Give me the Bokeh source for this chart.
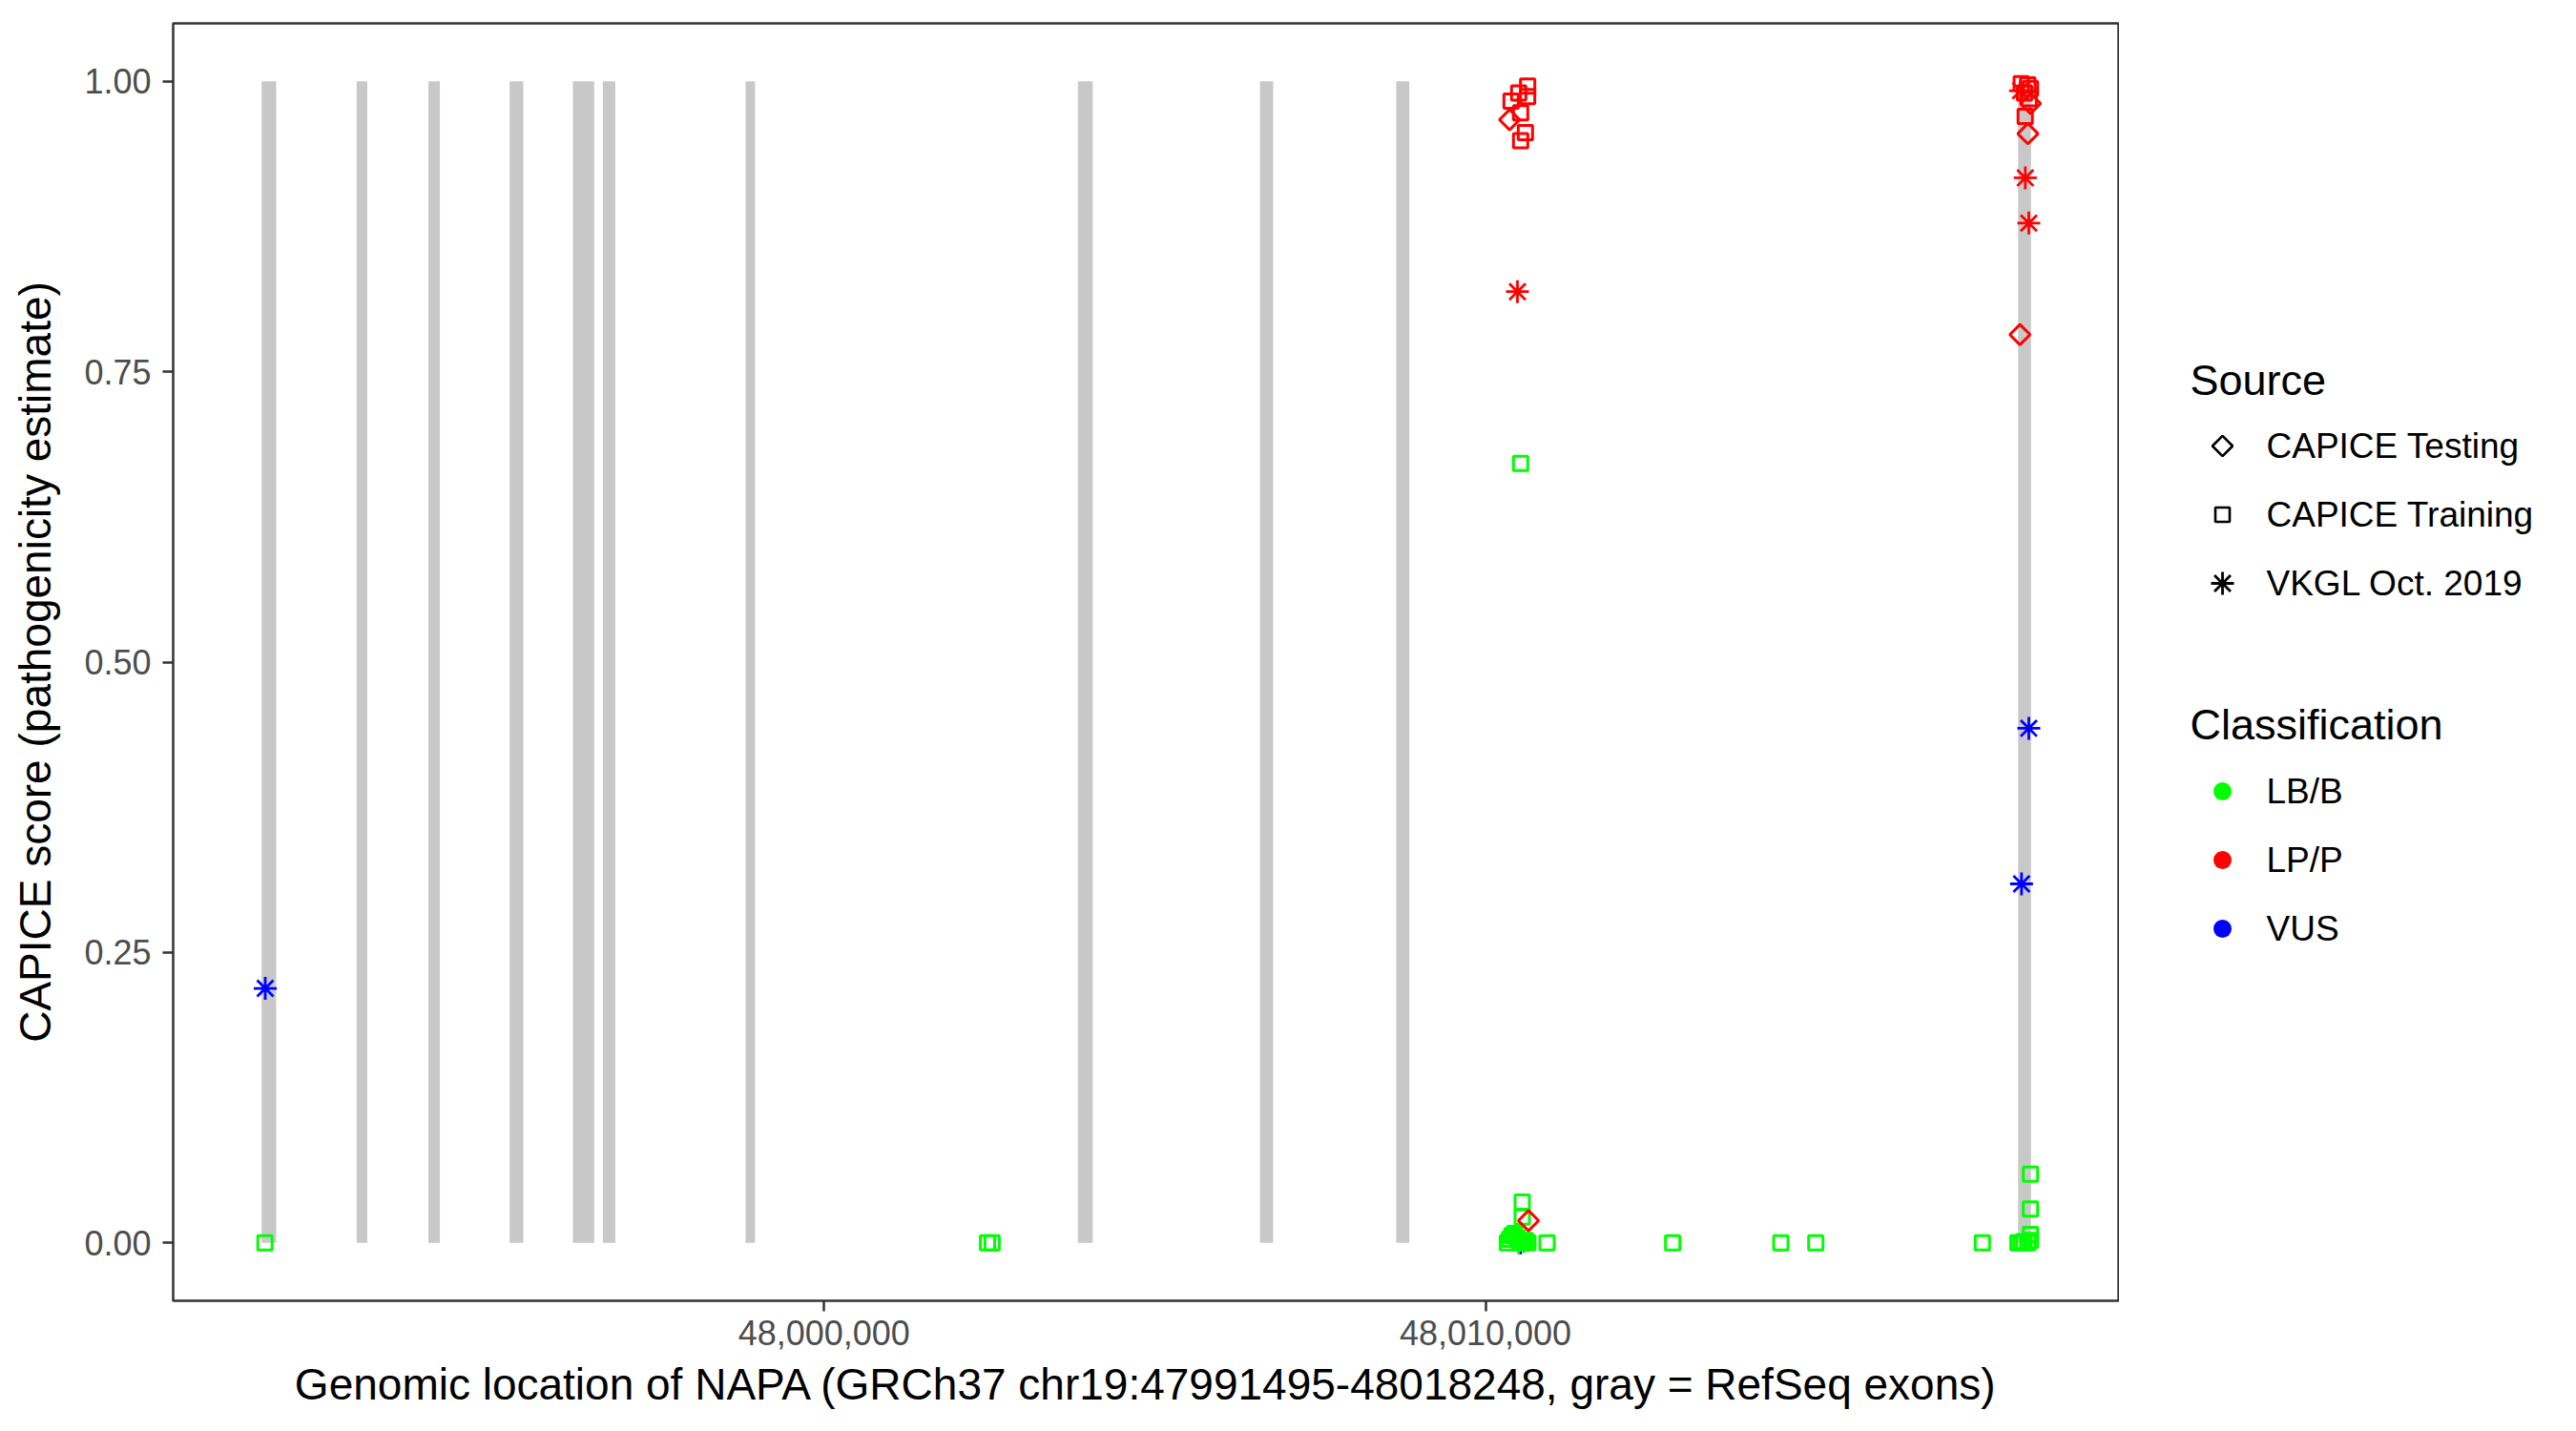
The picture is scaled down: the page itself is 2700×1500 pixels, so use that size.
import numpy as np
from bokeh.plotting import figure
from bokeh.models import Range1d, FixedTicker, NumeralTickFormatter, ColumnDataSource
from bokeh.layouts import row
from bokeh.embed import file_html
from bokeh.resources import INLINE
from bokeh.core.properties import value

# ---------------- data ----------------
# RefSeq exons of NAPA (GRCh37 chr19)
exon_start = [47991495, 47992931, 47994016, 47995245, 47996202, 47996654,
              47998813, 48003837, 48006591, 48008650, 48018053]
exon_end = [47991715, 47993092, 47994190, 47995451, 47996524, 47996842,
            47998955, 48004061, 48006790, 48008849, 48018248]

# variants: genomic position, CAPICE score, source, classification
train_lbb_pos = [47991545, 48002470, 48002540, 48010531, 48010555, 48010555,
                 48010330, 48010365, 48010400, 48010440, 48010480, 48010520,
                 48010560, 48010600, 48010640, 48010930, 48012830, 48014465,
                 48014994, 48017513, 48018050, 48018095, 48018140, 48018200,
                 48018240, 48018240, 48018240, 48018240]
train_lbb_score = [0.000, 0.000, 0.000, 0.671, 0.035, 0.022,
                   0.000, 0.003, 0.006, 0.008, 0.004, 0.001,
                   0.000, 0.002, 0.000, 0.000, 0.000, 0.000,
                   0.000, 0.000, 0.000, 0.000, 0.001, 0.000,
                   0.002, 0.007, 0.029, 0.059]

vkgl_lbb_pos = [48010500, 48010580]
vkgl_lbb_score = [0.000, 0.001]

train_lpp_pos = [48010637, 48010637, 48010502, 48010387, 48010531, 48010603,
                 48010531, 48018100, 48018200, 48018240, 48018150, 48018220,
                 48018160]
train_lpp_score = [0.996, 0.987, 0.990, 0.983, 0.973, 0.956,
                   0.949, 0.998, 0.997, 0.994, 0.990, 0.985,
                   0.970]

test_lpp_pos = [48010364, 48010650, 48018240, 48018201, 48018081]
test_lpp_score = [0.967, 0.019, 0.981, 0.955, 0.782]

vkgl_lpp_pos = [48010483, 48018090, 48018162, 48018215]
vkgl_lpp_score = [0.819, 0.992, 0.917, 0.878]

vkgl_vus_pos = [47991550, 48010531, 48018215, 48018105]
vkgl_vus_score = [0.219, 0.000, 0.443, 0.309]

x_ticks = [48000000, 48010000]
y_ticks = [0.0, 0.25, 0.50, 0.75, 1.0]

source_labels = ["CAPICE Testing", "CAPICE Training", "VKGL Oct. 2019"]
class_labels = ["LB/B", "LP/P", "VUS"]
class_colors = ["#00FF00", "#FF0000", "#0000FF"]

FONT = "Liberation Sans"

# ---------------- layout geometry (page pixels) ----------------
FRAME_L, FRAME_T = 181, 24
FRAME_W, FRAME_H = 2040, 1339
BOTTOM = 125
LEG_W = 470

# ---------------- main plot ----------------
xmin, xmax = 47991495, 48018248
pad = 0.05 * (xmax - xmin)

p = figure(frame_width=FRAME_W, frame_height=FRAME_H,
           x_range=Range1d(xmin - pad, xmax + pad),
           y_range=Range1d(-0.05, 1.05),
           output_backend="svg", toolbar_location=None,
           min_border_left=FRAME_L, min_border_right=0,
           min_border_top=FRAME_T, min_border_bottom=BOTTOM,
           background_fill_color="white", border_fill_color="white")

p.quad(left=exon_start, right=exon_end, bottom=0, top=1,
       fill_color="#C8C8C8", line_color=None)

def pts(xs, ys, marker, color, angle=0.0, size=15, lw=3.0):
    src = ColumnDataSource(dict(x=xs, y=ys))
    p.scatter("x", "y", source=src, marker=marker, size=size, angle=angle,
              fill_color=None, line_color=color, line_width=lw)

# draw order: VUS, LB/B, LP/P
pts(vkgl_vus_pos, vkgl_vus_score, "asterisk", "#0000FF", size=24, lw=2.8)
pts(train_lbb_pos, train_lbb_score, "square", "#00FF00")
pts(vkgl_lbb_pos, vkgl_lbb_score, "asterisk", "#00FF00", size=24, lw=2.8)
pts(test_lpp_pos, test_lpp_score, "square", "#FF0000", angle=np.pi / 4)
pts(train_lpp_pos, train_lpp_score, "square", "#FF0000")
pts(vkgl_lpp_pos, vkgl_lpp_score, "asterisk", "#FF0000", size=24, lw=2.8)

p.grid.visible = False
p.outline_line_color = "#333333"
p.outline_line_width = 2.5
p.outline_line_alpha = 1.0

p.xaxis.ticker = FixedTicker(ticks=x_ticks)
p.xaxis.formatter = NumeralTickFormatter(format="0,0")
p.yaxis.ticker = FixedTicker(ticks=y_ticks)
p.yaxis.formatter = NumeralTickFormatter(format="0.00")

for ax in (p.xaxis, p.yaxis):
    ax.axis_line_color = None
    ax.minor_tick_line_color = None
    ax.major_tick_line_color = "#333333"
    ax.major_tick_line_width = 2.5
    ax.major_tick_in = 0
    ax.major_tick_out = 11
    ax.major_label_text_font = FONT
    ax.major_label_text_font_size = "36px"
    ax.major_label_text_color = "#4D4D4D"
    ax.axis_label_text_font = FONT
    ax.axis_label_text_font_size = "46px"
    ax.axis_label_text_font_style = "normal"
    ax.axis_label_text_color = "black"

p.xaxis.axis_label = "Genomic location of NAPA (GRCh37 chr19:47991495-48018248, gray = RefSeq exons)"
p.yaxis.axis_label = "CAPICE score (pathogenicity estimate)"
p.xaxis.major_label_standoff = 9
p.xaxis.axis_label_standoff = 12
p.yaxis.major_label_standoff = 12
p.yaxis.axis_label_standoff = 22

# ---------------- legend panel (ranges in page pixels) ----------------
lp = figure(frame_width=LEG_W, frame_height=FRAME_H,
            x_range=Range1d(FRAME_L + FRAME_W, FRAME_L + FRAME_W + LEG_W),
            y_range=Range1d(FRAME_T + FRAME_H, FRAME_T),
            x_axis_type=None, y_axis_type=None,
            output_backend="svg", toolbar_location=None,
            min_border_left=0, min_border_right=0,
            min_border_top=FRAME_T, min_border_bottom=BOTTOM,
            outline_line_color=None, background_fill_color="white",
            border_fill_color="white")
lp.grid.visible = False

title_x = 2295
glyph_x = 2329
label_x = 2375
step = 72

src_title_y = 398
src_item_y = [src_title_y + 69 + i * step for i in range(3)]
cls_title_y = 759
cls_item_y = [cls_title_y + 70 + i * step for i in range(3)]

lp.text(x=[title_x, title_x], y=[src_title_y, cls_title_y], text=["Source", "Classification"],
        text_font=value(FONT), text_font_size=value("45px"), text_color="black",
        text_align="left", text_baseline="middle")
lp.text(x=[label_x] * 6, y=src_item_y + cls_item_y, text=source_labels + class_labels,
        text_font=value(FONT), text_font_size=value("37px"), text_color="black",
        text_align="left", text_baseline="middle")

lp.scatter(x=[glyph_x], y=[src_item_y[0]], marker="square", angle=np.pi / 4, size=15,
           fill_color=None, line_color="black", line_width=2.6)
lp.scatter(x=[glyph_x], y=[src_item_y[1]], marker="square", size=15,
           fill_color=None, line_color="black", line_width=2.6)
lp.scatter(x=[glyph_x], y=[src_item_y[2]], marker="asterisk", size=24,
           line_color="black", line_width=2.8)
lp.scatter(x=[glyph_x] * 3, y=cls_item_y, marker="circle", size=19,
           fill_color=class_colors, line_color=None)

layout = row(p, lp)
open("out.html", "w").write(file_html(layout, INLINE))
